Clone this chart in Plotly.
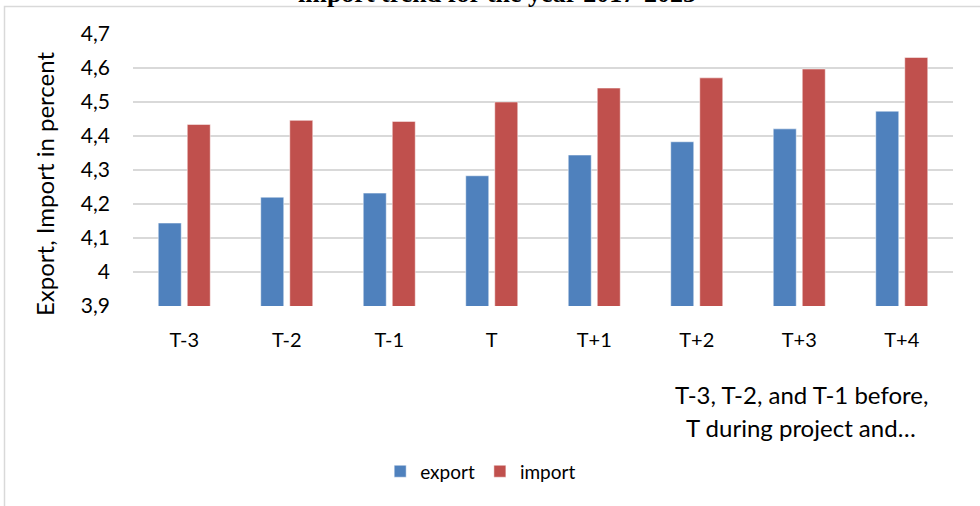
import plotly.graph_objects as go

categories = ["T-3", "T-2", "T-1", "T", "T+1", "T+2", "T+3", "T+4"]
export_vals = [4.144, 4.220, 4.232, 4.283, 4.344, 4.383, 4.421, 4.473]
import_vals = [4.434, 4.446, 4.443, 4.500, 4.541, 4.571, 4.597, 4.631]
y_tickvals = [3.9, 4.0, 4.1, 4.2, 4.3, 4.4, 4.5, 4.6, 4.7]
y_ticktext = ["3,9", "4", "4,1", "4,2", "4,3", "4,4", "4,5", "4,6", "4,7"]
title_text = "import trend for the year 2017-2023"
y_title = "Export, Import in percent"
x_title_lines = ["T-3, T-2, and T-1 before,", "T during project and…"]

FONT = "Lato"
GRID = "#D9D9D9"

fig = go.Figure()
fig.add_trace(go.Bar(x=categories, y=export_vals, name="export",
                     marker=dict(color="#4F81BD", line=dict(color="rgba(255,255,255,0.5)", width=1))))
fig.add_trace(go.Bar(x=categories, y=import_vals, name="import",
                     marker=dict(color="#C0504D", line=dict(color="rgba(255,255,255,0.5)", width=1))))

fig.update_layout(
    width=980, height=506,
    margin=dict(l=133, r=27, t=34, b=200),
    paper_bgcolor="white", plot_bgcolor="white",
    barmode="group", bargap=0.434, bargroupgap=0.207,
    font=dict(family=FONT, size=20, color="#000000"),
    showlegend=True,
    legend=dict(orientation="h", x=0.424, xanchor="center", y=-0.608, yanchor="middle",
                font=dict(family=FONT, size=19), itemwidth=30, traceorder="normal"),
    xaxis=dict(showgrid=False, showline=False, ticks="", ticklabelstandoff=20,
               tickfont=dict(family=FONT, size=20)),
    yaxis=dict(range=[3.9, 4.7], tickvals=y_tickvals, ticktext=y_ticktext,
               showgrid=True, gridcolor=GRID, gridwidth=1.5, zeroline=False,
               showline=False, ticks="", ticklabelstandoff=22,
               tickfont=dict(family=FONT, size=21)),
)

# frame
fig.add_shape(type="rect", xref="paper", yref="paper",
              x0=(4.5 - 133) / 820, x1=1.2, y0=-0.9, y1=1 + (34 - 6.5) / 272,
              line=dict(color=GRID, width=1.5), fillcolor="rgba(0,0,0,0)", layer="below")

# title (cut at top)
fig.add_annotation(text="<b>" + title_text + "</b>", xref="paper", yref="paper",
                   x=(497 - 133) / 820, y=1 + (34 - 10) / 272, xanchor="center", yanchor="bottom",
                   showarrow=False, font=dict(family="Liberation Serif", size=26, color="#000"))

# y title
fig.add_annotation(text=y_title, xref="paper", yref="paper", textangle=-90,
                   x=(44 - 133) / 820, y=(306.5 - 184.5) / 272, xanchor="center", yanchor="middle",
                   showarrow=False, font=dict(family=FONT, size=24, color="#000"))

# x title lines
for line, ypx in zip(x_title_lines, [395, 428]):
    fig.add_annotation(text=line, xref="paper", yref="paper",
                       x=(801 - 133) / 820, y=(306.5 - ypx) / 272, xanchor="center", yanchor="middle",
                       showarrow=False, font=dict(family=FONT, size=24, color="#000"))

fig.write_html("out.html", post_script="document.body.style.margin='0';",
               config={"displayModeBar": False})
